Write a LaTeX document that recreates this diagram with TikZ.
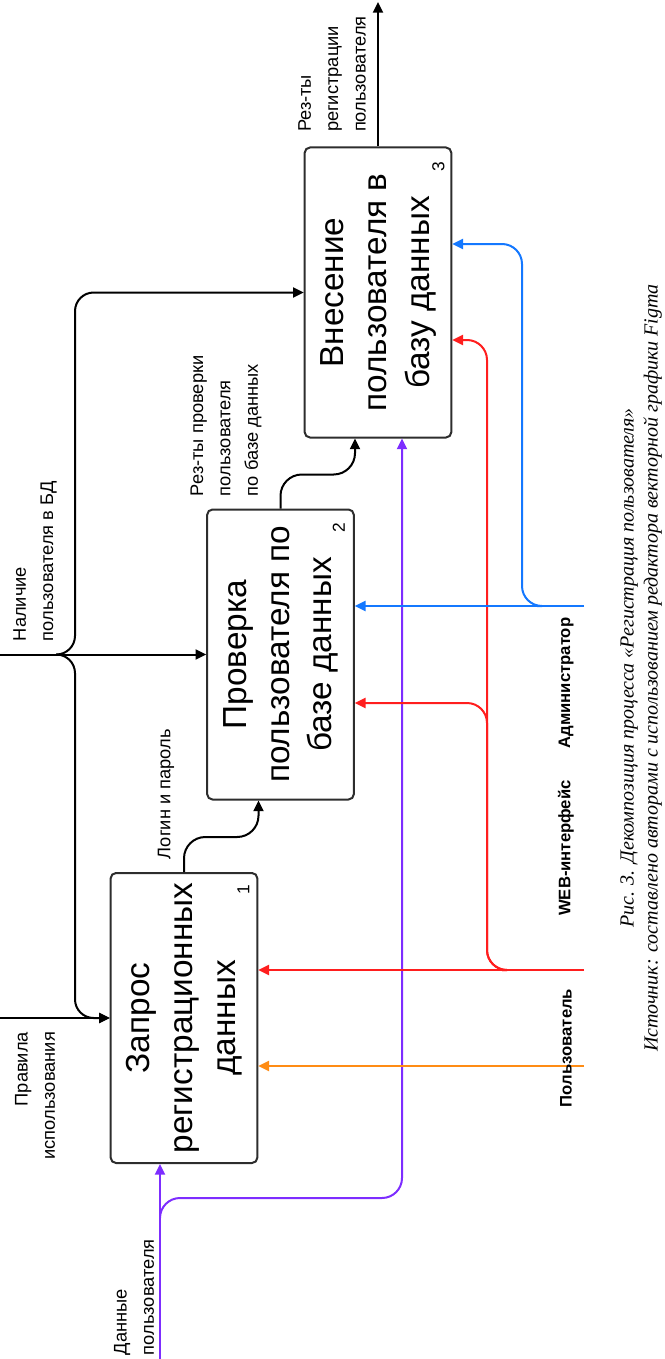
\documentclass[tikz,border=0pt]{standalone}
\usepackage{fontspec}
\setmainfont{Liberation Sans}
\newfontfamily\capserif{Liberation Serif}
\usepackage{graphicx}
\usetikzlibrary{arrows.meta,calc}

\definecolor{usrorange}{RGB}{255,140,20}
\definecolor{webred}{RGB}{255,30,30}
\definecolor{admblue}{RGB}{20,120,255}
\definecolor{datviolet}{RGB}{125,45,255}
\definecolor{framegray}{RGB}{45,45,45}

\newcommand\procfont{\fontsize{25}{32}\selectfont}
\newcommand\procrot[1]{\rotatebox{90}{\begin{tabular}{@{}c@{}}#1\end{tabular}}}

\tikzset{every picture/.style={line width=1.5pt},
  flow/.style={draw=black,-{Triangle[length=8pt,width=7.5pt]}},
  procbox/.style={draw=framegray,rounded corners=4pt,minimum width=110pt,minimum height=217.5pt,inner sep=0pt,font=\procfont},
  lbl/.style={rotate=90,inner sep=0pt,font=\fontsize{13.7}{20.5}\selectfont},
  mechlbl/.style={rotate=90,inner sep=0pt,font=\bfseries\fontsize{12.5}{14}\selectfont},
  numlbl/.style={rotate=90,inner sep=0pt,font=\fontsize{13}{14}\selectfont}}

\begin{document}
\begin{tikzpicture}[x=0.75pt,y=0.75pt,yscale=-1,xscale=1]
	\useasboundingbox (0,0) rectangle (664,1359);

	%Shape: Process boxes
	\node[procbox] (b1) at (184,1018) {\procrot{Запрос\\регистрационных\\данных}};
	\node[procbox] (b2) at (280.5,654.5) {\procrot{Проверка\\пользователя по\\базе данных}};
	\node[procbox] (b3) at (378,292.5) {\procrot{Внесение\\пользователя в\\базу данных}};
	% Text Node
	\node[numlbl] (n1) at ($(b1.north east)+(-15,18)$) {1};
	\node[numlbl] (n2) at ($(b2.north east)+(-16,19)$) {2};
	\node[numlbl] (n3) at ($(b3.north east)+(-14,20)$) {3};

	%Shape: free ends
	\coordinate (rules) at (0,1018);
	\coordinate (exist) at (0,654.5);
	\coordinate (split) at (61,654.5);
	\coordinate (bus) at (75,0);
	\coordinate (out) at (378,2);
	\coordinate (udata) at (160,1359);
	\coordinate (pfork) at (160,1215);
	\coordinate (pturn) at (402,1198);
	\coordinate (user) at (584,1066);
	\coordinate (web) at (584,970);
	\coordinate (wfork) at (502,970);
	\coordinate (wbus) at (487,0);
	\coordinate (w2) at ($(b2.east)+(0,48.5)$);
	\coordinate (w3) at ($(b3.east)+(0,47.5)$);
	\coordinate (admin) at (584,606);
	\coordinate (afork) at (537,606);
	\coordinate (abus) at (522,0);
	\coordinate (a3) at ($(b3.east)+(0,-48.5)$);

	%Shape: controls
	\draw[flow] (rules) -- (b1.west);
	\draw[flow] (exist) -- (b2.west);
	\draw[flow,rounded corners=14] (split) -| (bus |- b3.west) -- (b3.west);
	\draw[flow,rounded corners=14] (split) -| (bus |- b1.west) -- (b1.west);

	%Shape: outputs
	\draw[flow,rounded corners=16] (b1.north) -- ++(0,-35) -| ($(b2.south)+(-22,0)$);
	\draw[flow,rounded corners=16] (b2.north) -- ++(0,-34) -| ($(b3.south)+(-23,0)$);
	\draw[flow] (b3.north) -- (out);

	%Shape: inputs
	\draw[flow,draw=datviolet,color=datviolet] (udata) -- (udata |- b1.south);
	\draw[flow,draw=datviolet,color=datviolet,rounded corners=15] (pfork) |- (pturn) -- (pturn |- b3.south);

	%Shape: mechanisms
	\draw[flow,draw=usrorange,color=usrorange] (user) -- (user -| b1.east);
	\draw[flow,draw=webred,color=webred] (web) -- (web -| b1.east);
	\draw[flow,draw=webred,color=webred,rounded corners=15] (wfork) -| (wbus |- w2) -- (w2);
	\draw[flow,draw=webred,color=webred,rounded corners=15] (wfork) -| (wbus |- w3) -- (w3);
	\draw[flow,draw=admblue,color=admblue] (admin) -- (admin -| b2.east);
	\draw[flow,draw=admblue,color=admblue,rounded corners=15] (afork) -| (abus |- a3) -- (a3);

	% Text Node
	\node[lbl,anchor=east,align=right] (trules) at (35,1031) {Правила\\использования};
	\node[lbl,anchor=west,align=left] (texist) at (35,642) {Наличие\\пользователя в БД};
	\node[lbl,anchor=west,align=left] (tudata) at (134,1356) {Данные\\пользователя};
	\node[lbl,anchor=west] (tlogin) at (166,860) {Логин и пароль};
	\node[lbl,anchor=west,align=left] (tcheck) at (226,497) {Рез-ты проверки\\пользователя\\по базе данных};
	\node[lbl,anchor=west,align=left] (treg) at (332,133) {Рез-ты\\регистрации\\пользователя};
	\node[mechlbl] (tuser) at (566,1048) {Пользователь};
	\node[mechlbl] (tweb) at (566,848) {WEB-интерфейс};
	\node[mechlbl] (tadmin) at (566,683) {Администратор};
	% Text Node
	\node[rotate=90,inner sep=0pt,align=center,font=\capserif\itshape\fontsize{15}{18}\selectfont] (caption) at (641,668) {Рис. 3. Декомпозиция процесса «Регистрация пользователя»\\Источник: составлено авторами с использованием редактора векторной графики Figma};

\end{tikzpicture}
\end{document}
